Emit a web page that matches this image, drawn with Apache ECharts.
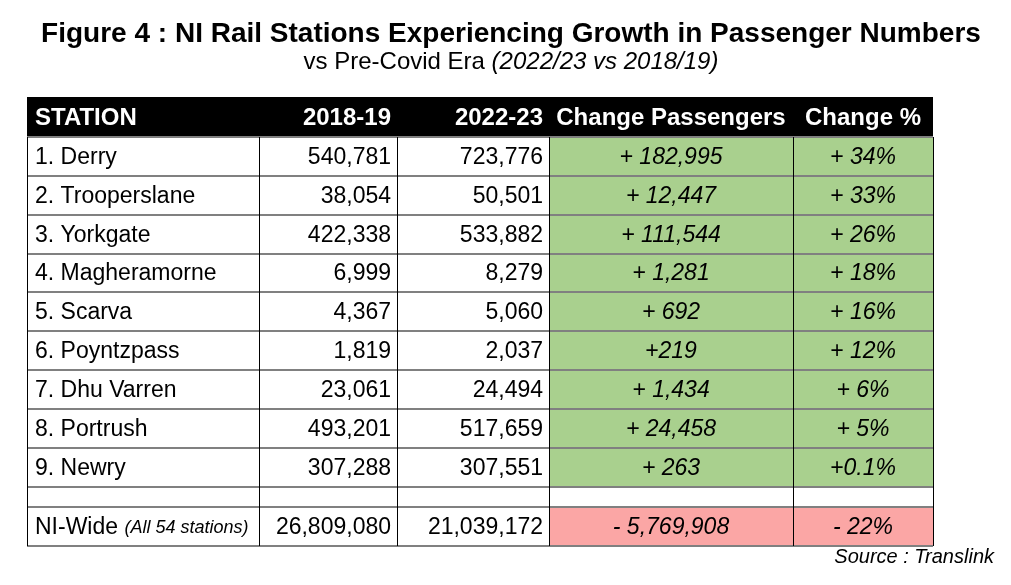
<!DOCTYPE html>
<html>
<head>
<meta charset="utf-8">
<script src="https://cdn.jsdelivr.net/npm/echarts@6/dist/echarts.min.js"></script>
<style>
html, body { margin: 0; padding: 0; background: #fff; }
#chart { width: 1011px; height: 585px; }
</style>
</head>
<body>
<div id="chart"></div>
<script>
// table contents
var headers = ['STATION', '2018-19', '2022-23', 'Change Passengers', 'Change %'];
var stations = ['1. Derry', '2. Trooperslane', '3. Yorkgate', '4. Magheramorne', '5. Scarva',
    '6. Poyntzpass', '7. Dhu Varren', '8. Portrush', '9. Newry'];
var pax1819 = [540781, 38054, 422338, 6999, 4367, 1819, 23061, 493201, 307288];
var pax2223 = [723776, 50501, 533882, 8279, 5060, 2037, 24494, 517659, 307551];
var changePax = ['+ 182,995', '+ 12,447', '+ 111,544', '+ 1,281', '+ 692', '+219', '+ 1,434', '+ 24,458', '+ 263'];
var changePct = ['+ 34%', '+ 33%', '+ 26%', '+ 18%', '+ 16%', '+ 12%', '+ 6%', '+ 5%', '+0.1%'];
var totalName = ['NI-Wide', '(All 54 stations)'];
var total1819 = 26809080;
var total2223 = 21039172;
var totalChange = '- 5,769,908';
var totalPct = '- 22%';

// layout (table units = pixels inside the grid)
var colEdges = [0, 232, 370, 522, 766, 906];
var rowEdges = [0, 40, 79, 118, 157, 195, 234, 273, 312, 351, 390, 410, 449];
var colAlign = ['left', 'right', 'right', 'center', 'center'];
var FONT = '"Liberation Sans", Arial, sans-serif';
var GREEN = '#a9d08e';
var PINK = '#fba6a5';

function fmt(n) {
    return String(n).replace(/\B(?=(\d{3})+(?!\d))/g, ',');
}

// build the cells
var cells = [], cellText = [], cellFill = [], cellKind = [];
function addCell(col, row, text, fill, kind) {
    cells.push([col, row]);
    cellText.push(text);
    cellFill.push(fill);
    cellKind.push(kind);
}
for (var c = 0; c < headers.length; c++) {
    addCell(c, 0, headers[c], '#000', 'head');
}
for (var i = 0; i < stations.length; i++) {
    addCell(0, i + 1, stations[i], '#fff', 'plain');
    addCell(1, i + 1, fmt(pax1819[i]), '#fff', 'plain');
    addCell(2, i + 1, fmt(pax2223[i]), '#fff', 'plain');
    addCell(3, i + 1, changePax[i], GREEN, 'italic');
    addCell(4, i + 1, changePct[i], GREEN, 'italic');
}
for (var c = 0; c < headers.length; c++) {
    addCell(c, 10, '', '#fff', 'plain');
}
addCell(0, 11, totalName, '#fff', 'total');
addCell(1, 11, fmt(total1819), '#fff', 'plain');
addCell(2, 11, fmt(total2223), '#fff', 'plain');
addCell(3, 11, totalChange, PINK, 'italic');
addCell(4, 11, totalPct, PINK, 'italic');

// grid lines: [0, k] horizontal at rowEdges[k], [1, k] vertical at colEdges[k]
var lines = [];
for (var k = 1; k < rowEdges.length; k++) lines.push([0, k]);
for (var k = 0; k < colEdges.length; k++) lines.push([1, k]);

function renderCell(params, api) {
    var col = api.value(0), row = api.value(1);
    var idx = params.dataIndex;
    var p0 = api.coord([colEdges[col], rowEdges[row]]);
    var p1 = api.coord([colEdges[col + 1], rowEdges[row + 1]]);
    var kind = cellKind[idx];
    var align = colAlign[col];
    var tx = align === 'left' ? p0[0] + 8 : (align === 'right' ? p1[0] - 6 : (p0[0] + p1[0]) / 2);
    var ty = (p0[1] + p1[1]) / 2 + 1;
    var children = [{
        type: 'rect',
        shape: { x: p0[0], y: p0[1], width: p1[0] - p0[0], height: p1[1] - p0[1] },
        style: { fill: cellFill[idx] }
    }];
    var style = {
        x: tx, y: ty, textAlign: align, textVerticalAlign: 'middle',
        fontFamily: FONT, fontSize: 23, fill: '#000'
    };
    if (kind === 'head') {
        style.text = cellText[idx];
        style.fontWeight = 'bold';
        style.fontSize = 24;
        style.fill = '#fff';
    } else if (kind === 'italic') {
        style.text = cellText[idx];
        style.fontStyle = 'italic';
        style.fontSize = 23;
    } else if (kind === 'total') {
        style.text = '{a|' + cellText[idx][0] + '} {b|' + cellText[idx][1] + '}';
        style.rich = {
            a: { fontFamily: FONT, fontSize: 23, fill: '#000' },
            b: { fontFamily: FONT, fontSize: 18, fontStyle: 'italic', fill: '#000' }
        };
    } else {
        style.text = cellText[idx];
    }
    children.push({ type: 'text', style: style });
    return { type: 'group', children: children };
}

function renderLine(params, api) {
    var dir = api.value(0), k = api.value(1);
    if (dir === 0) {
        var a = api.coord([colEdges[0], rowEdges[k]]);
        var b = api.coord([colEdges[colEdges.length - 1], rowEdges[k]]);
        return {
            type: 'line',
            shape: { x1: a[0], y1: a[1], x2: b[0], y2: b[1] },
            style: { stroke: '#808080', lineWidth: 2 }
        };
    }
    var a = api.coord([colEdges[k], rowEdges[1]]);
    var b = api.coord([colEdges[k], rowEdges[rowEdges.length - 1]]);
    return {
        type: 'line',
        shape: { x1: a[0] + 0.5, y1: a[1], x2: b[0] + 0.5, y2: b[1] },
        style: { stroke: '#000', lineWidth: 1 },
        z2: 10
    };
}

var chart = echarts.init(document.getElementById('chart'), null, { renderer: 'canvas' });
var option = {
    backgroundColor: '#fff',
    animation: false,
    grid: { left: 27, top: 97, width: 906, height: 449 },
    xAxis: { type: 'value', min: 0, max: 906, show: false },
    yAxis: { type: 'value', min: 0, max: 449, inverse: true, show: false },
    graphic: [
        {
            type: 'text', x: 511, y: 34,
            style: {
                text: 'Figure 4 : NI Rail Stations Experiencing Growth in Passenger Numbers',
                textAlign: 'center', textVerticalAlign: 'middle',
                fontFamily: FONT, fontSize: 28, fontWeight: 'bold', fill: '#000'
            }
        },
        {
            type: 'text', x: 511, y: 62,
            style: {
                text: '{a|vs Pre-Covid Era }{b|(2022/23 vs 2018/19)}',
                textAlign: 'center', textVerticalAlign: 'middle',
                rich: {
                    a: { fontFamily: FONT, fontSize: 24, fill: '#000' },
                    b: { fontFamily: FONT, fontSize: 24, fontStyle: 'italic', fill: '#000' }
                }
            }
        },
        {
            type: 'text', x: 994, y: 557,
            style: {
                text: 'Source : Translink',
                textAlign: 'right', textVerticalAlign: 'middle',
                fontFamily: FONT, fontSize: 20, fontStyle: 'italic', fill: '#000'
            }
        }
    ],
    series: [
        {
            type: 'custom',
            name: 'cells',
            coordinateSystem: 'cartesian2d',
            renderItem: renderCell,
            data: cells,
            silent: true,
            z: 1
        },
        {
            type: 'custom',
            name: 'lines',
            coordinateSystem: 'cartesian2d',
            renderItem: renderLine,
            data: lines,
            silent: true,
            z: 2
        }
    ]
};
chart.setOption(option);
</script>
</body>
</html>
